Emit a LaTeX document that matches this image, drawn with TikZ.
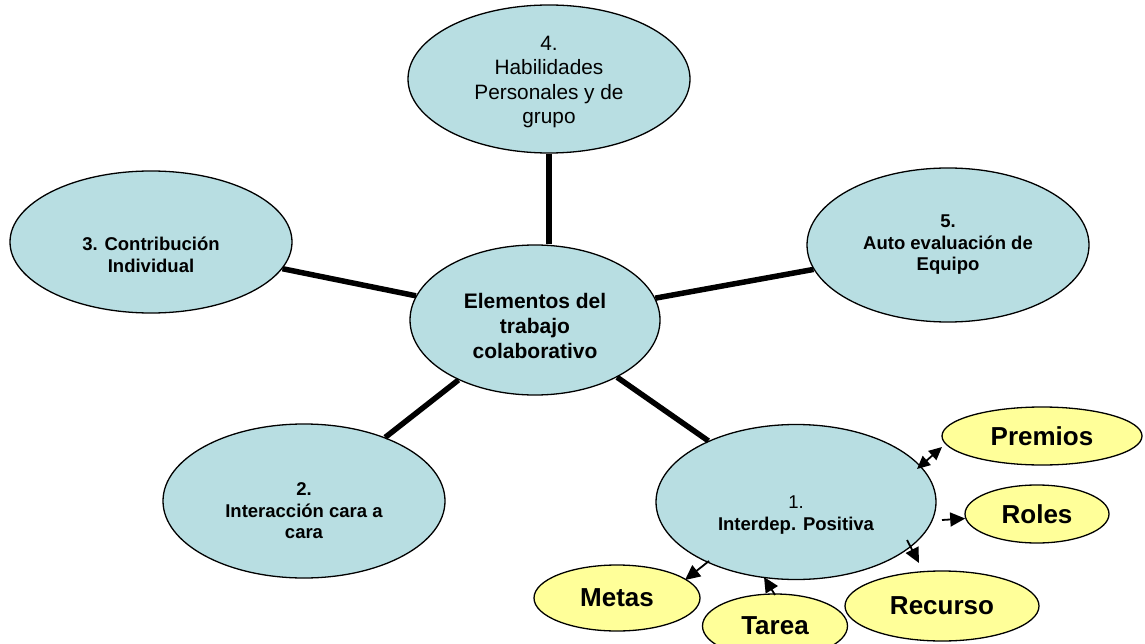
\documentclass[tikz,border=0pt]{standalone}
\usepackage{fontspec}
\setmainfont{Liberation Sans}
\usetikzlibrary{shapes.geometric,arrows.meta}
\definecolor{bluef}{RGB}{184,222,226}
\definecolor{yelf}{RGB}{255,255,153}
\begin{document}
\begin{tikzpicture}[x=1pt,y=-1pt,
  bigell/.style={ellipse, draw=black, line width=1.3pt, fill=bluef, inner sep=0pt},
  smallell/.style={ellipse, draw=black, line width=1.3pt, fill=yelf, inner sep=0pt,
    font=\fontsize{26}{30}\selectfont\bfseries},
  txt/.style={align=center, font=\fontsize{18.5}{21.5}\selectfont\bfseries},
  link/.style={line width=5.5pt},
  arr/.style={line width=1.8pt, -{Triangle[length=15pt,width=14pt]}},
  darr/.style={line width=1.8pt, {Triangle[length=13pt,width=12pt]}-{Triangle[length=13pt,width=12pt]}}]
\useasboundingbox (0,0) rectangle (1145,644);
% big ellipses
\node[bigell, minimum width=250pt, minimum height=150pt,
  label={[txt, font=\fontsize{21}{25}\selectfont\bfseries, yshift=-6pt]center:{Elementos del\\trabajo\\colaborativo}}] (c) at (535,320) {};
\node[bigell, minimum width=282pt, minimum height=148pt,
  label={[align=center, font=\fontsize{20.8}{24.5}\selectfont, yshift=-3pt]center:{4.\\Habilidades\\Personales y de\\grupo}}] (t) at (549,79) {};
\node[bigell, minimum width=282pt, minimum height=142pt,
  label={[txt, yshift=-13pt]center:{3. Contribución\\Individual}}] (l) at (151,242) {};
\node[bigell, minimum width=282pt, minimum height=154pt,
  label={[txt]center:{5.\\Auto evaluación de\\Equipo}}] (r) at (948,245) {};
\node[bigell, minimum width=282pt, minimum height=154pt,
  label={[txt, yshift=-10pt]center:{2.\\Interacción cara a\\cara}}] (b) at (304,501) {};
\node[bigell, minimum width=280pt, minimum height=155pt,
  label={[txt, yshift=-13pt]center:{\mdseries 1.\\Interdep. Positiva}}] (p) at (796,502) {};
% links
\draw[link] (t.south) -- (t.south |- c.north);
\draw[link] (c) -- (l);
\draw[link] (c) -- (r);
\draw[link] (c) -- (b);
\draw[link] (c) -- (p);
% yellow ellipses
\node[smallell, minimum width=200pt, minimum height=58pt] (premios) at (1042,436) {Premios};
\node[smallell, minimum width=144pt, minimum height=58pt] (roles) at (1037,514) {Roles};
\node[smallell, minimum width=194pt, minimum height=70pt] (recurso) at (942,606) {Recurso};
\node[smallell, minimum width=145pt, minimum height=64pt] (tarea) at (775,626) {\raisebox{-2pt}{Tarea}};
\node[smallell, minimum width=166pt, minimum height=66pt] (metas) at (617,598) {Metas};
% small arrows
\coordinate (pa) at (917,469);
\coordinate (pb) at (942,447);
\draw[darr] (pa) -- (pb);
\coordinate (ra) at (942,520);
\draw[arr] (ra) -- (roles);
\coordinate (ca) at (907,540);
\coordinate (cb) at (919,563);
\draw[arr] (ca) -- (cb);
\coordinate (ta) at (775,595);
\coordinate (tb) at (764,577);
\draw[arr] (ta) -- (tb);
\coordinate (ma) at (709,561);
\coordinate (mb) at (685,580);
\draw[arr] (ma) -- (mb);
\end{tikzpicture}
\end{document}
